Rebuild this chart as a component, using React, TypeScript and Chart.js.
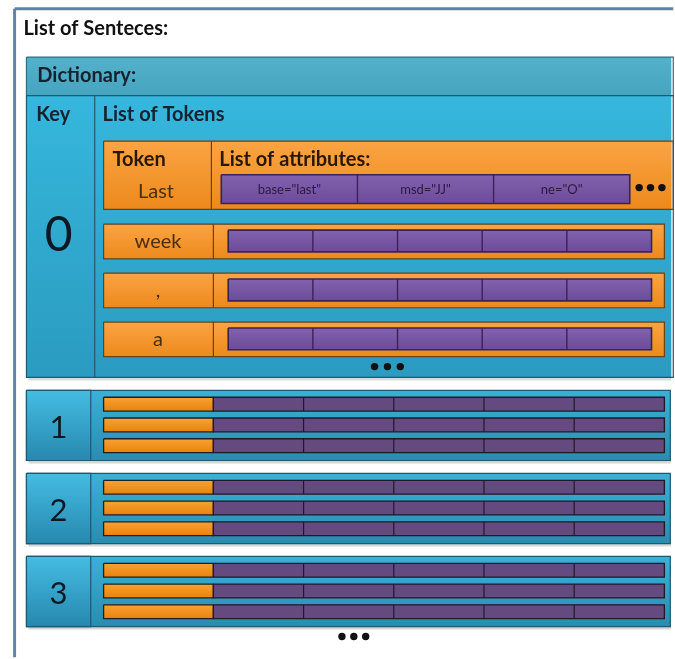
import React, { useEffect, useRef } from 'react';
import { Chart, registerables } from 'chart.js';

Chart.register(...registerables);

// ---- content ----
const titleLabel = 'List of Senteces:';
const dictionaryLabel = 'Dictionary:';
const keyLabel = 'Key';
const tokensLabel = 'List of Tokens';
const tokenLabel = 'Token';
const attributesLabel = 'List of attributes:';
const sentenceKeys = ['0', '1', '2', '3'];
const firstTokens = ['Last', 'week', ',', 'a'];
const firstAttributes = ['base="last"', 'msd="JJ"', 'ne="O"'];
const attributeCellsPerRow = 5;
const compactTokenRows = 3;
const ellipsisDots = 3;

// ---- layout ----
const W = 675;
const H = 659;
const FONT = 'Lato, "Open Sans", "DejaVu Sans", sans-serif';

type Fill = string | [string, string];
interface Shape {
  pts: { x: number; y: number }[];
  fill?: Fill;
  stroke?: string;
  lw?: number;
  y0?: number;
  y1?: number;
}
interface Label {
  text: string;
  x: number;
  y: number;
  font: string;
  color: string;
  align: CanvasTextAlign;
}

const shapes: Shape[] = [];
const labels: Label[] = [];
const dots: { x: number; y: number }[] = [];

const rect = (x0: number, y0: number, x1: number, y1: number, fill?: Fill, stroke?: string, lw = 1) => {
  shapes.push({
    pts: [
      { x: x0, y: y0 },
      { x: x1, y: y0 },
      { x: x1, y: y1 },
      { x: x0, y: y1 },
      { x: x0, y: y0 },
    ],
    fill,
    stroke,
    lw,
    y0,
    y1,
  });
};
const seg = (x0: number, y0: number, x1: number, y1: number, stroke: string, lw = 1) => {
  shapes.push({ pts: [{ x: x0, y: y0 }, { x: x1, y: y1 }], stroke, lw });
};
const text = (t: string, x: number, y: number, size: number, bold: boolean, color: string, align: CanvasTextAlign = 'left') => {
  labels.push({ text: t, x, y, font: `${bold ? 'bold ' : ''}${size}px ${FONT}`, color, align });
};
const ellipsis = (cx: number, y: number, gap: number) => {
  for (let i = 0; i < ellipsisDots; i++) dots.push({ x: cx + (i - (ellipsisDots - 1) / 2) * gap, y });
};

// outer frame
seg(11, H + 2, 11, 5, '#6383A3', 3);
seg(11, 5, W + 2, 5, '#6383A3', 3);
text(titleLabel, 20, 25, 20, true, '#111111');

// dictionary header + sentence 0 box
const boxBorder = '#1D5A72';
rect(25, 57, W + 2, 381, 'rgba(0,0,0,0.14)');
rect(23, 54, W + 2, 93, ['#54B1CB', '#45A4BF'], '#2B6F88', 1.2);
text(dictionaryLabel, 34, 73, 20, true, '#17222e');
rect(23, 93, W + 2, 378, ['#36B7DD', '#2B9BC0'], boxBorder, 1.2);
seg(92, 93, 92, 378, boxBorder, 1.2);
text(keyLabel, 33, 112, 20, true, '#17222e');
text(tokensLabel, 100, 112, 20, true, '#17222e');
text(sentenceKeys[0], 55.5, 234, 48, false, '#0f1822', 'center');

// token rows of sentence 0
const orangeBig: [string, string] = ['#FBA443', '#EC891C'];
const orangeBorder = '#6A4215';
const purpleBig: [string, string] = ['#8261AE', '#6C4C9A'];
const purpleBorder = '#3A2356';

firstTokens.forEach((tok, i) => {
  if (i === 0) {
    const top = 139;
    const bot = 208;
    rect(101, top, W + 2, bot, orangeBig, orangeBorder, 1.2);
    seg(210, top, 210, bot, orangeBorder, 1.2);
    text(tokenLabel, 110, 158, 20, true, '#2a1806');
    text(attributesLabel, 218, 158, 20, true, '#2a1806');
    text(tok, 154, 190, 20, false, '#4a2f0f', 'center');
    const ax0 = 220;
    const ax1 = 633;
    const cw = (ax1 - ax0) / firstAttributes.length;
    rect(ax0, 173, ax1, 202, purpleBig, purpleBorder, 1.6);
    firstAttributes.forEach((a, j) => {
      if (j > 0) seg(ax0 + j * cw, 173, ax0 + j * cw, 202, purpleBorder, 1.4);
      text(a, ax0 + (j + 0.5) * cw, 188, 13, false, '#2b1a42', 'center');
    });
    ellipsis(654, 186, 11.5);
  } else {
    const top = 223 + (i - 1) * 49.5;
    const bot = top + 35;
    rect(101, top, 668, bot, orangeBig, orangeBorder, 1.2);
    seg(212, top, 212, bot, orangeBorder, 1.2);
    text(tok, 156, (top + bot) / 2, 20, false, '#4a2f0f', 'center');
    const ax0 = 227;
    const ax1 = 655;
    const cw = (ax1 - ax0) / attributeCellsPerRow;
    rect(ax0, top + 6, ax1, top + 28, purpleBig, purpleBorder, 1.6);
    for (let j = 1; j < attributeCellsPerRow; j++) seg(ax0 + j * cw, top + 6, ax0 + j * cw, top + 28, purpleBorder, 1.4);
  }
});
ellipsis(388, 367, 13);

// sentences 1..n (compact)
sentenceKeys.slice(1).forEach((key, k) => {
  const y0 = 391 + k * 84;
  const y1 = y0 + 71;
  rect(25, y0 + 3, W, y1 + 3, 'rgba(0,0,0,0.16)');
  rect(23, y0, 674, y1, ['#3AB1D7', '#2A8CAF'], boxBorder, 1.2);
  rect(23, y0, 88, y1, ['#45BCE3', '#2788AE'], boxBorder, 1.2);
  text(key, 55.5, (y0 + y1) / 2 + 2.5, 31, false, '#0f1822', 'center');
  for (let r = 0; r < compactTokenRows; r++) {
    const top = y0 + 7 + r * 21;
    const bot = top + 14;
    rect(101, top, 212, bot, ['#F9A232', '#E8820F'], '#1f1f1f', 1.3);
    const ax0 = 212;
    const ax1 = 668;
    const cw = (ax1 - ax0) / attributeCellsPerRow;
    rect(ax0, top, ax1, bot, '#654A80', '#1f1a2a', 1.3);
    for (let j = 1; j < attributeCellsPerRow; j++) seg(ax0 + j * cw, top, ax0 + j * cw, bot, '#1f1a2a', 1.2);
  }
});
ellipsis(354, 640, 12);

// ---- chart ----
const datasets: any[] = shapes.map((s, i) => {
  let bg: any = 'rgba(0,0,0,0)';
  if (typeof s.fill === 'string') bg = s.fill;
  else if (Array.isArray(s.fill)) {
    const [c0, c1] = s.fill;
    bg = (c: any) => {
      const chart = c.chart;
      const ys = chart.scales && chart.scales.y;
      const a = ys ? ys.getPixelForValue(s.y0) : NaN;
      const b = ys ? ys.getPixelForValue(s.y1) : NaN;
      if (!isFinite(a) || !isFinite(b)) return c0;
      const g = chart.ctx.createLinearGradient(0, a, 0, b);
      g.addColorStop(0, c0);
      g.addColorStop(1, c1);
      return g;
    };
  }
  return {
    data: s.pts,
    showLine: true,
    fill: s.fill ? 'shape' : false,
    backgroundColor: bg,
    borderColor: s.stroke || 'rgba(0,0,0,0)',
    borderWidth: s.stroke ? s.lw : 0,
    borderJoinStyle: 'miter',
    borderCapStyle: 'butt',
    pointRadius: 0,
    pointHoverRadius: 0,
    tension: 0,
    clip: false,
    order: shapes.length - i,
  };
});
datasets.push({
  data: dots,
  showLine: false,
  pointRadius: 3.7,
  pointHoverRadius: 3.7,
  pointBackgroundColor: '#111111',
  pointBorderWidth: 0,
  clip: false,
  order: -1,
});

const textPlugin = {
  id: 'diagramText',
  afterDatasetsDraw(chart: any) {
    const { ctx, scales } = chart;
    ctx.save();
    ctx.textBaseline = 'middle';
    labels.forEach((l) => {
      ctx.font = l.font;
      ctx.fillStyle = l.color;
      ctx.textAlign = l.align;
      ctx.fillText(l.text, scales.x.getPixelForValue(l.x), scales.y.getPixelForValue(l.y));
    });
    ctx.restore();
  },
};

export default function App() {
  const ref = useRef<HTMLCanvasElement>(null);
  useEffect(() => {
    document.body.style.margin = '0';
    document.documentElement.style.overflow = 'hidden';
    const chart = new Chart(ref.current as HTMLCanvasElement, {
      type: 'scatter',
      data: { datasets },
      options: {
        animation: false,
        responsive: false,
        maintainAspectRatio: false,
        events: [],
        layout: { padding: 0 },
        plugins: {
          legend: { display: false },
          tooltip: { enabled: false },
          title: { display: false },
        },
        scales: {
          x: { type: 'linear', min: 0, max: W, display: false },
          y: { type: 'linear', min: 0, max: H, reverse: true, display: false },
        },
      } as any,
      plugins: [textPlugin],
    });
    return () => chart.destroy();
  }, []);
  return (
    <div style={{ position: 'fixed', left: 0, top: 0, width: W, height: H, background: '#ffffff', overflow: 'hidden' }}>
      <canvas ref={ref} width={W} height={H} style={{ display: 'block', width: W, height: H }} />
    </div>
  );
}
